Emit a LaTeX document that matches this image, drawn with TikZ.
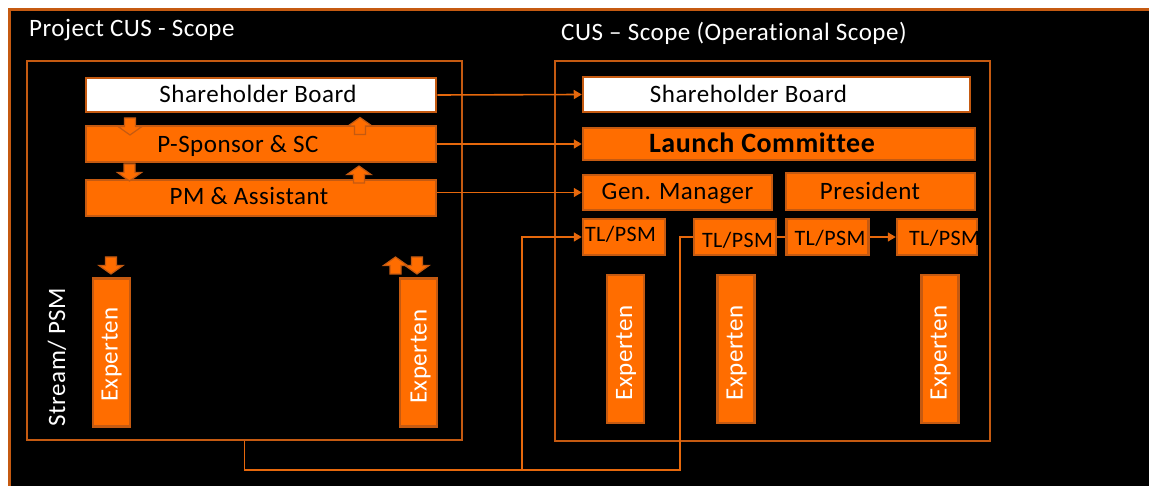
\documentclass[tikz,border=0pt]{standalone}
\usepackage{fontspec}
\setmainfont{Carlito}[LetterSpace=2.0, Ligatures={TeX,NoCommon}]
\usetikzlibrary{arrows.meta}
\definecolor{boxfill}{RGB}{255,109,0}
\definecolor{boxline}{RGB}{197,90,17}
\definecolor{wirecol}{RGB}{230,104,12}
\begin{document}
\begin{tikzpicture}[x=1pt, y=-1pt,
  txt/.style={font=\fontsize{25}{30}\selectfont},
  orgbox/.style={draw=boxline, line width=2.5pt, fill=boxfill, inner sep=0pt},
  boardbox/.style={orgbox, fill=white},
  tlbox/.style={orgbox, minimum width=82pt, minimum height=36pt},
  expbox/.style={orgbox, minimum width=37pt, minimum height=148pt},
  scopebox/.style={draw=boxline, line width=2.5pt, inner sep=0pt},
  boxtext/.style={txt, inner sep=0pt, text height=16pt, text depth=0pt, text=black},
  tltext/.style={boxtext, font=\fontsize{22}{26}\selectfont, text height=14pt},
  exptext/.style={boxtext, text=white, rotate=90},
  heading/.style={txt, text=white, inner sep=0pt, anchor=base west},
  wire/.style={draw=wirecol, line width=1.6pt},
  arrowend/.style={-{Triangle[length=8pt,width=9pt]}},
  blockarrow/.style={fill=boxfill, draw=boxline, line width=1.2pt, line join=miter},
  pics/downarrow/.style={code={\filldraw[blockarrow] (-5.5,-8.5) -- (5.5,-8.5) -- (5.5,0) -- (12,0) -- (0,8.5) -- (-12,0) -- (-5.5,0) -- cycle;}},
  pics/uparrow/.style={code={\filldraw[blockarrow] (-5.5,8.5) -- (5.5,8.5) -- (5.5,0) -- (12,0) -- (0,-8.5) -- (-12,0) -- (-5.5,0) -- cycle;}},
]
\useasboundingbox (0,0) rectangle (1149,486);
\fill[white] (0,0) rectangle (1149,486);
\begin{scope}
  \clip (0,0) rectangle (1149,486);
  \draw[draw=boxline, line width=3pt, fill=black] (9.5,9.5) rectangle (1180,520);
\end{scope}

% headings
\node[heading] (ttlL) at (29,37) {Project CUS - Scope};
\node[heading] (ttlR) at (561,41) {CUS – Scope (Operational Scope)};

% scope frames
\node[scopebox, minimum width=435pt, minimum height=379pt] (lF) at (244.5,250.5) {};
\node[scopebox, minimum width=435pt, minimum height=380pt] (rF) at (772.5,251) {};

\coordinate (busE) at (680,470);
\coordinate (tapA) at (522,470);

% project side
\node[boardbox, minimum width=350pt, minimum height=34pt] (lSB) at (261,95) {};
\node[orgbox, minimum width=350pt, minimum height=36pt] (lPS) at (261,144) {};
\node[orgbox, minimum width=350pt, minimum height=36pt] (lPM) at (261,198) {};
\node[boxtext] (lSBt) at ([shift={(-3,0)}]lSB.center) {Shareholder Board};
\node[boxtext] (lPSt) at ([shift={(-23,1)}]lPS.center) {P-Sponsor \& SC};
\node[boxtext] (lPMt) at ([shift={(-12,-1)}]lPM.center) {PM \& Assistant};

\node[expbox] (lE1) at (111.5,352.5) {};
\node[expbox] (lE2) at (418.5,352.5) {};
\node[exptext] (lE1t) at ([shift={(-2,2)}]lE1.center) {Experten};
\node[exptext] (lE2t) at ([shift={(0,4)}]lE2.center) {Experten};
\node[boxtext, text=white, rotate=90] (strm) at (57,357) {Stream/ PSM};

\pic at (130,126.5) {downarrow};
\pic at (360,126) {uparrow};
\pic at (129.5,172.5) {downarrow};
\pic at (359,174.5) {uparrow};
\pic at (111,265.5) {downarrow};
\pic at (395.5,265.5) {uparrow};
\pic at (417,265.5) {downarrow};

% operational side
\node[boardbox, minimum width=387pt, minimum height=35pt] (rSB) at (776.5,94.5) {};
\node[orgbox, minimum width=392pt, minimum height=32pt] (rLC) at (779,144) {};
\node[orgbox, minimum width=189pt, minimum height=35pt] (rGM) at (677.5,192.5) {};
\node[orgbox, minimum width=189pt, minimum height=37pt] (rPr) at (880.5,191.5) {};
\node[boxtext] (rSBt) at ([shift={(-28,0)}]rSB.center) {Shareholder Board};
\node[boxtext, font=\fontsize{28}{32}\selectfont\bfseries, text height=18pt] (rLCt) at ([shift={(-17,0)}]rLC.center) {Launch Committee};
\node[boxtext] (rGMt) at ([shift={(0,-1)}]rGM.center) {Gen. Manager};
\node[boxtext] (rPrt) at ([shift={(-10.5,0)}]rPr.center) {President};

\node[tlbox] (tl1) at (624,237) {};
\node[tlbox] (tl2) at (735,237) {};
\node[tlbox] (tl3) at (827.5,237) {};
\node[tlbox, minimum width=80pt] (tl4) at (937,237) {};
\node[tltext] (tl1t) at ([shift={(-3.5,-2)}]tl1.center) {TL/PSM};
\node[tltext] (tl2t) at ([shift={(2.5,3.5)}]tl2.center) {TL/PSM};
\node[tltext] (tl3t) at ([shift={(2.5,1.5)}]tl3.center) {TL/PSM};
\node[tltext] (tl4t) at ([shift={(7.5,1.5)}]tl4.center) {TL/PSM};

\node[expbox] (rE1) at (625.5,349) {};
\node[expbox] (rE2) at (736,349) {};
\node[expbox] (rE3) at (940,349) {};
\node[exptext] (rE1t) at ([shift={(-1.5,4)}]rE1.center) {Experten};
\node[exptext] (rE2t) at ([shift={(-1.5,4)}]rE2.center) {Experten};
\node[exptext] (rE3t) at ([shift={(-1.5,4)}]rE3.center) {Experten};

% links between the two scopes
\draw[wire, arrowend] (lSB.east) -- (rSB.west);
\draw[wire, arrowend] (rLC.west -| lPS.east) -- (rLC.west);
\draw[wire, arrowend] (rGM.west -| lPM.east) -- (rGM.west);
\draw[wire] (lF.south) |- (busE) |- (tl2.west);
\draw[wire, arrowend] (tapA) |- (tl1.west);
\draw[wire] (tl2.east) -- (tl3.west);
\draw[wire, arrowend] (tl3.east) -- (tl4.west);
\end{tikzpicture}
\end{document}
